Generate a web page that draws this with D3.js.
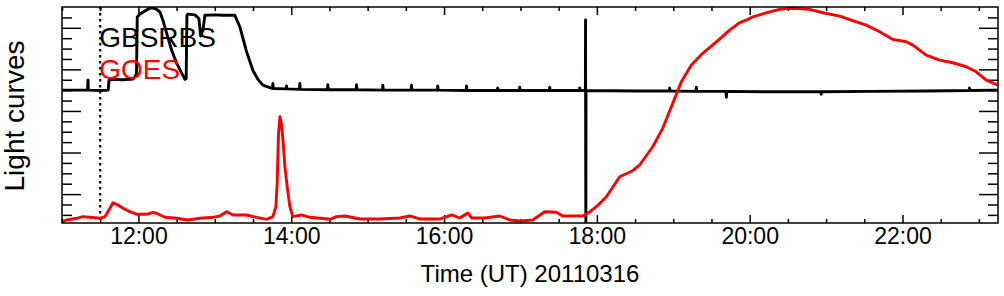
<!DOCTYPE html>
<html>
<head>
    <meta charset="utf-8">
    <title>Light curves 20110316</title>
    <script src="https://d3js.org/d3.v7.min.js"></script>
    <style type="text/css">
        body { margin: 0; background: #fff; }
        text { font-family: "Liberation Sans", Arial, sans-serif; }
        .axis path { display: none; }
        .axis line { stroke: #000; stroke-width: 1.5; }
    </style>
</head>
<body>
<script type="text/javascript">
    // time in decimal hours UT, values in plot units
    let majorHours = [12, 14, 16, 18, 20, 22];
    let eventHour = 11.5;   // dotted marker
    let legendNames = ["GBSRBS", "GOES"];
    let legendColors = ["#000", "#f00"];

    // GBSRBS (black)
    let gbsrbs = [
        [11.00, 3.50], [11.20, 3.50], [11.335, 3.50], [11.34, 3.74], [11.345, 3.50],
        [11.50, 3.49], [11.605, 3.50], [11.615, 3.74], [11.65, 3.76], [11.80, 3.75],
        [11.93, 3.77], [11.955, 3.82], [11.975, 3.90], [11.985, 5.26], [12.02, 5.33],
        [12.108, 5.43], [12.173, 5.49], [12.239, 5.44], [12.282, 5.38], [12.321, 5.18],
        [12.369, 4.87], [12.435, 4.46], [12.50, 4.15], [12.566, 3.91], [12.609, 3.76],
        [12.625, 3.78], [12.635, 5.30], [12.648, 5.33], [12.74, 5.31], [12.792, 5.22],
        [12.815, 4.80], [12.845, 4.95], [12.87, 5.30], [13.00, 5.31], [13.10, 5.30],
        [13.263, 5.30], [13.328, 5.02], [13.416, 4.42], [13.498, 3.98], [13.564, 3.76],
        [13.629, 3.62], [13.721, 3.56], [13.755, 3.54], [13.76, 3.66], [13.765, 3.54],
        [13.935, 3.53], [13.939, 3.60], [13.943, 3.53], [14.108, 3.52], [14.113, 3.66],
        [14.118, 3.52], [14.474, 3.51], [14.479, 3.63], [14.484, 3.51], [14.85, 3.51],
        [14.855, 3.63], [14.86, 3.51], [15.194, 3.50], [15.199, 3.62], [15.204, 3.50],
        [15.569, 3.50], [15.574, 3.62], [15.579, 3.50], [15.913, 3.50], [15.918, 3.60],
        [15.923, 3.50], [16.289, 3.49], [16.294, 3.60], [16.299, 3.49], [16.698, 3.49],
        [16.703, 3.55], [16.708, 3.49], [16.986, 3.49], [16.991, 3.57], [16.996, 3.49],
        [17.378, 3.49], [17.383, 3.57], [17.388, 3.49], [17.771, 3.49], [17.776, 3.55],
        [17.781, 3.49], [17.850, 3.49], [17.852, 5.19], [17.854, 1.88], [17.856, 0.33],
        [17.858, 3.49], [18.50, 3.48], [18.948, 3.48], [18.953, 3.55], [18.958, 3.48],
        [19.297, 3.47], [19.302, 3.57], [19.307, 3.47], [19.69, 3.47], [19.695, 3.33],
        [19.70, 3.47], [20.30, 3.46], [20.932, 3.46], [20.937, 3.40], [20.942, 3.46],
        [21.60, 3.47], [22.30, 3.48], [22.872, 3.49], [22.877, 3.55], [22.882, 3.49],
        [23.25, 3.50]
    ];

    // GOES (red)
    let goes = [
        [11.00, 0.337], [11.061, 0.377], [11.192, 0.418], [11.275, 0.457], [11.366, 0.442],
        [11.497, 0.418], [11.562, 0.457], [11.628, 0.659], [11.667, 0.793], [11.733, 0.738],
        [11.798, 0.659], [11.890, 0.577], [11.977, 0.514], [12.108, 0.514], [12.190, 0.563],
        [12.256, 0.522], [12.348, 0.442], [12.500, 0.418], [12.648, 0.377], [12.805, 0.418],
        [12.975, 0.442], [13.067, 0.474], [13.154, 0.577], [13.237, 0.498], [13.416, 0.498],
        [13.547, 0.442], [13.678, 0.394], [13.760, 0.457], [13.799, 0.697], [13.816, 1.267],
        [13.834, 2.469], [13.852, 2.861], [13.874, 2.661], [13.895, 2.228], [13.917, 1.659],
        [13.947, 1.178], [13.982, 0.697], [14.021, 0.457], [14.135, 0.498], [14.244, 0.442],
        [14.375, 0.418], [14.506, 0.394], [14.593, 0.457], [14.702, 0.474], [14.898, 0.401],
        [15.160, 0.401], [15.421, 0.425], [15.552, 0.474], [15.683, 0.401], [15.944, 0.401],
        [16.101, 0.498], [16.206, 0.425], [16.311, 0.546], [16.363, 0.425], [16.533, 0.425],
        [16.729, 0.474], [16.860, 0.377], [16.991, 0.353], [17.161, 0.377], [17.318, 0.577],
        [17.471, 0.563], [17.553, 0.474], [17.815, 0.474], [17.880, 0.538], [17.994, 0.697],
        [18.125, 0.938], [18.299, 1.418], [18.469, 1.563], [18.561, 1.700], [18.731, 2.139],
        [18.862, 2.582], [18.993, 3.183], [19.106, 3.702], [19.237, 4.103], [19.385, 4.385],
        [19.564, 4.663], [19.738, 4.945], [19.869, 5.125], [19.977, 5.202], [20.042, 5.264],
        [20.218, 5.361], [20.392, 5.442], [20.566, 5.466], [20.784, 5.442], [20.958, 5.361],
        [21.177, 5.281], [21.395, 5.144], [21.526, 5.065], [21.700, 4.904], [21.874, 4.721],
        [22.049, 4.663], [22.136, 4.584], [22.311, 4.344], [22.485, 4.224], [22.659, 4.159],
        [22.834, 4.063], [22.965, 3.942], [23.096, 3.743], [23.243, 3.623]
    ];

    let margin = {top: 7, right: 6, bottom: 73, left: 62},
        width = 1004 - margin.left - margin.right,
        height = 296 - margin.top - margin.bottom;

    let svg = d3.select("body").append("svg")
        .attr("width", 1004)
        .attr("height", 296);

    let g = svg.append("g")
        .attr("transform", "translate(" + margin.left + "," + margin.top + ")");

    let x = d3.scaleLinear().domain([11, 23.25]).range([0, width]);
    let y = d3.scaleLinear().domain([0.305, 5.5]).range([height, 0]);

    let minorHours = d3.range(11, 23.25, 0.5).filter(h => majorHours.indexOf(h) < 0);
    let yMinor = d3.range(0.5, 5.5, 0.25).filter(v => v % 1 !== 0);
    let yMajor = [1, 2, 3, 4, 5];

    let fmt = h => d3.format("02")(h) + ":00";

    // bottom axis
    g.append("g").attr("class", "axis")
        .attr("transform", "translate(0," + height + ")")
        .call(d3.axisBottom(x).tickValues(majorHours).tickSize(-8).tickPadding(5).tickFormat(fmt))
        .selectAll("text").attr("font-size", 23).attr("fill", "#000")
            .style("font-family", "'Liberation Sans', Arial, sans-serif");
    g.append("g").attr("class", "axis")
        .attr("transform", "translate(0," + height + ")")
        .call(d3.axisBottom(x).tickValues(minorHours).tickSize(-4).tickFormat(""));

    // top axis
    g.append("g").attr("class", "axis")
        .call(d3.axisTop(x).tickValues(majorHours).tickSize(-8).tickFormat(""));
    g.append("g").attr("class", "axis")
        .call(d3.axisTop(x).tickValues(minorHours).tickSize(-4).tickFormat(""));

    // left / right axes
    g.append("g").attr("class", "axis")
        .call(d3.axisLeft(y).tickValues(yMajor).tickSize(-19).tickFormat(""));
    g.append("g").attr("class", "axis")
        .call(d3.axisLeft(y).tickValues(yMinor).tickSize(-10).tickFormat(""));
    g.append("g").attr("class", "axis")
        .attr("transform", "translate(" + width + ",0)")
        .call(d3.axisRight(y).tickValues(yMajor).tickSize(-19).tickFormat(""));
    g.append("g").attr("class", "axis")
        .attr("transform", "translate(" + width + ",0)")
        .call(d3.axisRight(y).tickValues(yMinor).tickSize(-10).tickFormat(""));

    g.append("clipPath").attr("id", "clip")
        .append("rect").attr("width", width).attr("height", height);

    let plot = g.append("g").attr("clip-path", "url(#clip)");

    // dotted event marker
    plot.append("line")
        .attr("x1", x(eventHour)).attr("x2", x(eventHour))
        .attr("y1", 0).attr("y2", height)
        .attr("stroke", "#000").attr("stroke-width", 2.2)
        .attr("stroke-dasharray", "2.5,3.5");

    let line = d3.line().x(d => x(d[0])).y(d => y(d[1]));

    plot.append("path")
        .datum(gbsrbs)
        .attr("d", line)
        .attr("fill", "none")
        .attr("stroke", "#000")
        .attr("stroke-width", 2.9)
        .attr("stroke-linejoin", "round");

    plot.append("path")
        .datum(goes)
        .attr("d", line)
        .attr("fill", "none")
        .attr("stroke", "#f00")
        .attr("stroke-width", 2.9)
        .attr("stroke-linejoin", "round");

    // frame
    g.append("rect")
        .attr("width", width).attr("height", height)
        .attr("fill", "none").attr("stroke", "#000").attr("stroke-width", 1.5);

    // legend
    legendNames.forEach((name, i) => {
        g.append("text")
            .attr("x", x(eventHour) - 1)
            .attr("y", 40 + i * 32)
            .attr("font-size", 28)
            .attr("fill", legendColors[i])
            .text(name);
    });

    // axis titles
    svg.append("text")
        .attr("x", margin.left + width / 2)
        .attr("y", 282)
        .attr("text-anchor", "middle")
        .attr("font-size", 24)
        .text("Time (UT) 20110316");

    svg.append("text")
        .attr("transform", "translate(23.5," + (margin.top + 109) + ") rotate(-90)")
        .attr("text-anchor", "middle")
        .attr("font-size", 28)
        .text("Light curves");
</script>
</body>
</html>
